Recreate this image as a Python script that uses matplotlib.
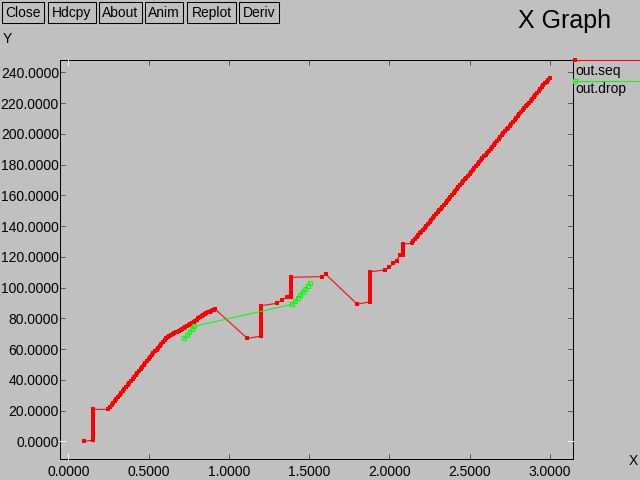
import matplotlib
matplotlib.use('Agg')
import matplotlib.pyplot as plt
from matplotlib.patches import Rectangle
from matplotlib.lines import Line2D

plt.rcParams['font.family'] = ['Liberation Sans', 'DejaVu Sans']

# ---------------- data ----------------
title = 'X Graph'
buttons = ['Close', 'Hdcpy', 'About', 'Anim', 'Replot', 'Deriv']
x_ticks = [0.0, 0.5, 1.0, 1.5, 2.0, 2.5, 3.0]
y_ticks = [0, 20, 40, 60, 80, 100, 120, 140, 160, 180, 200, 220, 240]
series_names = ['out.seq', 'out.drop']
x_label = 'X'
y_label = 'Y'

seq_x = [0.095,
         0.156, 0.156, 0.156, 0.156, 0.156, 0.156, 0.156, 0.156, 0.156, 0.156, 0.156,
         0.247, 0.25, 0.26, 0.27, 0.28, 0.29, 0.30, 0.31, 0.32, 0.33, 0.34, 0.35,
         0.36, 0.37, 0.38, 0.39, 0.40, 0.41, 0.42, 0.43, 0.44, 0.45, 0.46, 0.47,
         0.48, 0.49, 0.50, 0.51, 0.52, 0.53, 0.54, 0.55, 0.56, 0.57, 0.58, 0.59,
         0.60, 0.61, 0.62, 0.63, 0.64, 0.65, 0.66, 0.67, 0.68, 0.69, 0.70, 0.71,
         0.72, 0.73, 0.74, 0.75, 0.76, 0.77, 0.78, 0.79, 0.80, 0.81, 0.82, 0.83,
         0.84, 0.85, 0.86, 0.87, 0.88, 0.89, 0.90, 0.91, 0.915,
         1.116,
         1.203, 1.203, 1.203, 1.203, 1.203, 1.203, 1.203, 1.203, 1.203, 1.203, 1.203,
         1.299, 1.33, 1.361,
         1.388, 1.388, 1.388, 1.388, 1.388, 1.388, 1.388, 1.388, 1.388,
         1.579, 1.604,
         1.80,
         1.879, 1.879, 1.879, 1.879, 1.879, 1.879, 1.879, 1.879, 1.879, 1.879, 1.879,
         1.973, 1.999, 2.024, 2.045, 2.066,
         2.087, 2.087, 2.087, 2.087, 2.087,
         2.139, 2.15, 2.16, 2.17, 2.18, 2.19, 2.20, 2.21, 2.22, 2.23, 2.24, 2.25,
         2.26, 2.27, 2.28, 2.29, 2.30, 2.31, 2.32, 2.33, 2.34, 2.35, 2.36, 2.37,
         2.38, 2.39, 2.40, 2.41, 2.42, 2.43, 2.44, 2.45, 2.46, 2.47, 2.48, 2.49,
         2.50, 2.51, 2.52, 2.53, 2.54, 2.55, 2.56, 2.57, 2.58, 2.59, 2.60, 2.61,
         2.62, 2.63, 2.64, 2.65, 2.66, 2.67, 2.68, 2.69, 2.70, 2.71, 2.72, 2.73,
         2.74, 2.75, 2.76, 2.77, 2.78, 2.79, 2.80, 2.81, 2.82, 2.83, 2.84, 2.85,
         2.86, 2.87, 2.88, 2.89, 2.90, 2.91, 2.92, 2.93, 2.94, 2.95, 2.96, 2.97,
         2.98, 2.99, 3.00]
seq_y = [0.0,
         0.8, 2.8, 4.8, 6.8, 8.8, 10.8, 12.8, 14.8, 16.8, 18.8, 20.8,
         20.8, 21.2, 22.5, 23.8, 25.0, 26.3, 27.6, 28.9, 30.2, 31.5, 32.8, 34.0,
         35.3, 36.6, 37.9, 39.2, 40.5, 41.7, 43.0, 44.3, 45.6, 46.9, 48.2, 49.5,
         50.7, 52.0, 53.3, 54.6, 55.9, 57.2, 58.5, 59.7, 61.0, 62.3, 63.6, 64.9,
         66.2, 67.1, 67.8, 68.4, 69.0, 69.7, 70.3, 70.8, 71.3, 71.9, 72.4, 73.0,
         73.5, 74.1, 74.8, 75.6, 76.4, 77.1, 77.8, 78.4, 79.1, 79.9, 80.6, 81.2,
         81.9, 82.6, 83.2, 83.8, 84.3, 84.7, 85.1, 85.6, 85.9,
         66.9,
         68.5, 70.5, 72.5, 74.5, 76.5, 78.5, 80.5, 82.5, 84.5, 86.5, 88.2,
         89.8, 91.9, 93.9,
         93.9, 95.5, 97.0, 98.5, 100.0, 101.6, 103.2, 105.0, 106.7,
         107.1, 108.6,
         89.1,
         90.8, 92.8, 94.8, 96.8, 98.8, 100.8, 102.8, 104.8, 106.8, 108.6, 110.3,
         111.4, 113.2, 115.8, 117.5, 121.2,
         121.2, 123.0, 124.8, 126.6, 128.3,
         128.8, 130.2, 131.4, 132.7, 133.9, 135.2, 136.4, 137.7, 138.9, 140.2, 141.4, 142.7,
         143.9, 145.2, 146.4, 147.7, 149.0, 150.2, 151.4, 152.7, 154.0, 155.2, 156.4, 157.7,
         159.0, 160.2, 161.5, 162.7, 164.0, 165.2, 166.5, 167.7, 169.0, 170.3, 171.5, 172.8,
         174.0, 175.3, 176.5, 177.8, 179.0, 180.3, 181.5, 182.8, 184.0, 185.3, 186.5, 187.8,
         189.0, 190.3, 191.5, 192.8, 194.0, 195.3, 196.5, 197.8, 199.0, 200.3, 201.5, 202.8,
         204.0, 205.3, 206.5, 207.8, 209.0, 210.3, 211.5, 212.8, 214.0, 215.3, 216.5, 217.8,
         219.0, 220.3, 221.5, 222.8, 224.0, 225.3, 226.5, 227.8, 229.0, 230.3, 231.5, 232.8,
         234.0, 235.3, 236.5]

drop_x = [0.722, 0.742, 0.755, 0.772, 0.786,
          1.396, 1.414, 1.431, 1.446, 1.462, 1.476, 1.492, 1.508]
drop_y = [67.0, 69.1, 70.9, 73.0, 74.8,
          89.1, 91.1, 93.2, 95.0, 96.9, 99.1, 101.0, 102.8]

# ---------------- styling / layout ----------------
W, H = 640, 480
BG = '#c0c0c0'
RED = '#ff0000'
GREEN = '#00ff00'


def fx(px):
    return px / W


def fy(py):
    return 1 - py / H


fig = plt.figure(figsize=(6.4, 4.8), dpi=100, facecolor=BG)

L, R, T, B = 60.3, 572.7, 60.3, 459.0
ax = fig.add_axes([fx(L), fy(B), (R - L) / W, (B - T) / H])
ax.set_facecolor(BG)
ax.set_xlim(-0.0498, 3.142)
ax.set_ylim(-11.5, 247.8)

for s in ax.spines.values():
    s.set_linestyle((0, (1, 1)))
    s.set_linewidth(0.72)
    s.set_color('black')

ax.set_xticks(x_ticks)
ax.set_xticklabels([f'{v:.4f}' for v in x_ticks])
ax.set_yticks(y_ticks)
ax.set_yticklabels([f'{v:.4f}' for v in y_ticks])
ax.tick_params(axis='both', length=0, labelsize=10, colors='black')
ax.tick_params(axis='x', pad=4.5)
ax.tick_params(axis='y', pad=1)

# manual dotted ticks
tlx = 5 / (B - T)
tly = 5 / (R - L)
for v in x_ticks:
    c = 'white' if v == 0 else 'black'
    ls = '-' if v == 0 else (0, (1, 1))
    for y0, y1 in [(0, tlx), (1 - tlx, 1)]:
        ax.plot([v, v], [y0, y1], transform=ax.get_xaxis_transform(),
                color=c, lw=0.72, ls=ls, clip_on=False, zorder=3)
for v in y_ticks:
    c = 'white' if v == 0 else 'black'
    ls = '-' if v == 0 else (0, (1, 1))
    for x0, x1 in [(0, tly), (1 - tly, 1)]:
        ax.plot([x0, x1], [v, v], transform=ax.get_yaxis_transform(),
                color=c, lw=0.72, ls=ls, clip_on=False, zorder=3)

# series
ax.plot(seq_x, seq_y, color=RED, lw=0.75, marker='s', ms=2.6, mew=0,
        mfc=RED, zorder=4)
ax.plot(drop_x, drop_y, color=GREEN, lw=0.75, marker='s', ms=3.3, mew=0.75,
        mfc='none', mec=GREEN, zorder=5)

# legend (drawn like xgraph)
fig.add_artist(Line2D([fx(573), 1.0], [fy(60.3), fy(60.3)], color=RED, lw=0.75))
fig.add_artist(Line2D([fx(574.5)], [fy(60.3)], marker='s', ms=2.6, mew=0,
                      mfc=RED, color=RED))
fig.text(fx(575), fy(75), series_names[0], fontsize=10, va='baseline', ha='left')
fig.add_artist(Line2D([fx(573), 1.0], [fy(81.3), fy(81.3)], color=GREEN, lw=0.75))
fig.add_artist(Line2D([fx(574.5)], [fy(81.3)], marker='s', ms=3.3, mew=0.75,
                      mfc='none', mec=GREEN, color=GREEN))
fig.text(fx(575), fy(93.3), series_names[1], fontsize=10, va='baseline', ha='left')

# buttons
btn_boxes = [(1.7, 44.3), (48.3, 95.7), (99.3, 141.7), (145.3, 183.3),
             (187.3, 235.7), (239.3, 279.3)]
for label, (x0, x1) in zip(buttons, btn_boxes):
    fig.add_artist(Rectangle((fx(x0), fy(23.3)), (x1 - x0) / W, (23.3 - 1.7) / H,
                             transform=fig.transFigure, fill=False,
                             edgecolor='black', lw=0.75))
    fig.text(fx((x0 + x1) / 2), fy(17.3), label, fontsize=10, ha='center',
             va='baseline')

# title and axis labels
fig.text(fx(518), fy(28.3), title, fontsize=18, ha='left', va='baseline')
fig.text(fx(2.5), fy(43.3), y_label, fontsize=10, ha='left', va='baseline')
fig.text(fx(628.5), fy(465), x_label, fontsize=10, ha='left', va='baseline')

fig.savefig('out.png', dpi=100, facecolor=BG)
